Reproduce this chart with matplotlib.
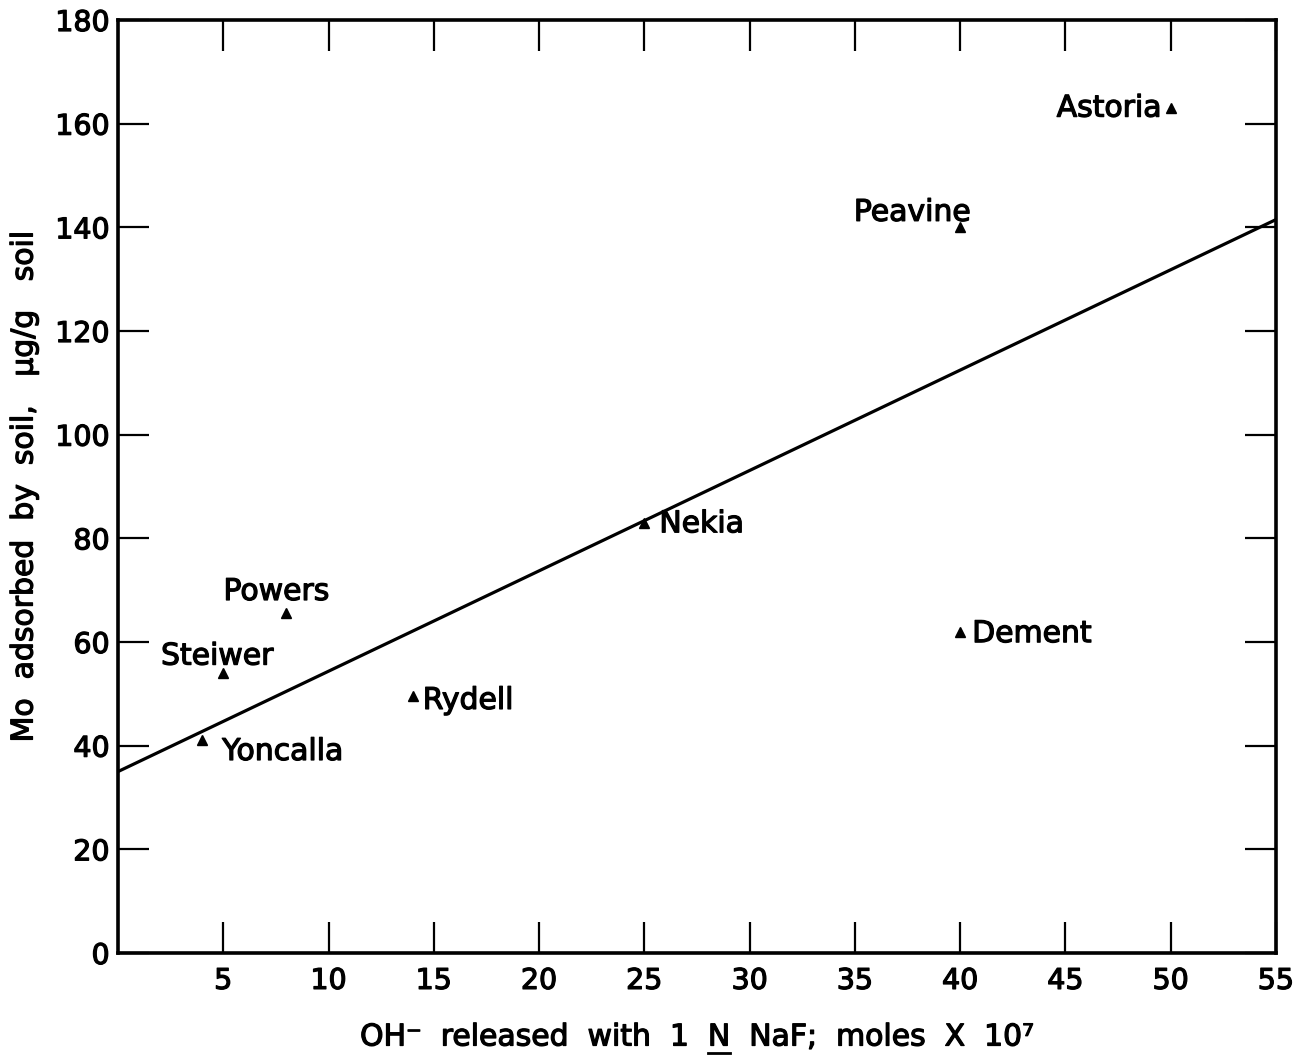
import matplotlib
matplotlib.use("Agg")
import matplotlib.pyplot as plt
from matplotlib.lines import Line2D
import matplotlib.patheffects as pe

plt.rcParams['font.family'] = ['DejaVu Sans']

# ---- data ----
soils = ["Yoncalla", "Steiwer", "Powers", "Rydell", "Nekia", "Dement", "Peavine", "Astoria"]
oh_released = [4, 5, 8, 14, 25, 40, 40, 50]
mo_adsorbed = [41, 54, 65.5, 49.5, 83, 62, 140, 163]

fit_x = [0, 55]
fit_y = [35, 141.5]

x_ticks = [5, 10, 15, 20, 25, 30, 35, 40, 45, 50, 55]
y_ticks = [0, 20, 40, 60, 80, 100, 120, 140, 160, 180]

# label placement (offset pixels, horizontal alignment)
label_offsets = [(20, -11), (-6, 17), (-10, 22), (10, -4), (15, -1), (12, -2), (-48, 15), (-9, 0)]
label_ha = ["left", "center", "center", "left", "left", "left", "center", "right"]

FS = 21.5
FS_TICK = 20.5
thick = [pe.withStroke(linewidth=0.9, foreground='black')]

fig = plt.figure(figsize=(13, 10.56), dpi=100)
ax = fig.add_axes([118/1300, 1 - 953/1056, (1276 - 118)/1300, (953 - 20)/1056])

ax.plot(fit_x, fit_y, color='black', lw=2.3, solid_capstyle='butt')
ax.plot(oh_released, mo_adsorbed, linestyle='none', marker='^', color='black', markersize=7)

for name, x, y, off, ha in zip(soils, oh_released, mo_adsorbed, label_offsets, label_ha):
    ax.annotate(name, (x, y), xytext=off, textcoords='offset pixels',
                ha=ha, va='center', fontsize=FS, color='black', path_effects=thick)

ax.set_xlim(0, 55)
ax.set_ylim(0, 180)
ax.set_xticks(x_ticks)
ax.set_yticks(y_ticks)
ax.set_xticklabels([str(v) for v in x_ticks], fontsize=FS_TICK, path_effects=thick)
ax.set_yticklabels([str(v) for v in y_ticks], fontsize=FS_TICK, path_effects=thick)
ax.tick_params(direction='in', length=22, width=1.6, top=True, right=True,
               labeltop=False, labelright=False)
ax.tick_params(axis='x', pad=10)
ax.tick_params(axis='y', pad=6)
for s in ax.spines.values():
    s.set_linewidth(2.6)

ax.set_ylabel("Mo  adsorbed  by  soil,   μg/g   soil", fontsize=FS, labelpad=12,
              path_effects=thick)

prefix = "OH\u207b  released  with  1  "
nchar = "N"
suffix = "  NaF;  moles  X  10\u2077"
full = prefix + nchar + suffix
xl = fig.text(0.5 * (118 + 1276) / 1300, 1 - 1037 / 1056, full, ha='center', va='center',
              fontsize=FS, path_effects=thick)

fig.canvas.draw()
r = fig.canvas.get_renderer()
bb = xl.get_window_extent(r)
t_pre = fig.text(0, 0, prefix + "|", fontsize=FS)
t_bar = fig.text(0, 0, "|", fontsize=FS)
t_n = fig.text(0, 0, nchar, fontsize=FS)
w_pre = t_pre.get_window_extent(r).width - t_bar.get_window_extent(r).width
w_n = t_n.get_window_extent(r).width
for t in (t_pre, t_bar, t_n):
    t.remove()
x0 = bb.x0 + w_pre
x1 = x0 + w_n
yline = bb.y0 - 1
W, H = fig.bbox.width, fig.bbox.height
fig.add_artist(Line2D([x0 / W, x1 / W], [yline / H, yline / H], transform=fig.transFigure,
                      color='black', lw=2.0))

fig.savefig("out.png", dpi=100)
